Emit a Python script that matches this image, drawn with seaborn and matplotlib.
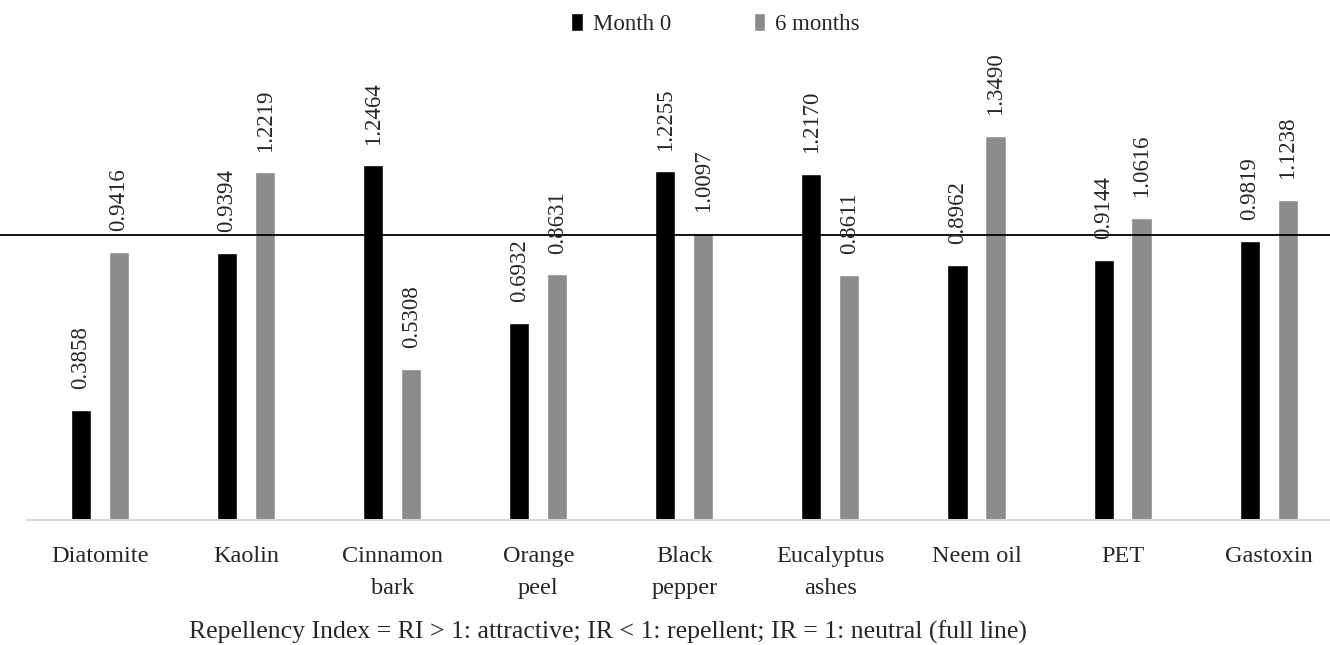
import matplotlib
matplotlib.use("Agg")
import matplotlib.pyplot as plt
import pandas as pd
import seaborn as sns

# Données
categories = ["Diatomite", "Kaolin", "Cinnamon\nbark", "Orange\npeel", "Black\npepper",
              "Eucalyptus\nashes", "Neem oil", "PET", "Gastoxin"]
month0 = [0.3858, 0.9394, 1.2464, 0.6932, 1.2255, 1.2170, 0.8962, 0.9144, 0.9819]
month6 = [0.9416, 1.2219, 0.5308, 0.8631, 1.0097, 0.8611, 1.3490, 1.0616, 1.1238]
series = ["Month 0", "6 months"]

df = pd.DataFrame({
    "cat": categories * 2,
    "RI": month0 + month6,
    "serie": [series[0]] * len(categories) + [series[1]] * len(categories),
})

sns.set_style("white")
plt.rcParams["font.family"] = ["Liberation Serif", "DejaVu Serif"]

fig = plt.figure(figsize=(13.3, 6.45), dpi=100)
ax = fig.add_axes([0.0203, 0.194, 0.9797, 0.72])

sns.barplot(data=df, x="cat", y="RI", hue="serie", hue_order=series,
            palette=["#000000", "#8c8c8c"], width=0.52, gap=0.47,
            saturation=1, ax=ax, legend=True)

# étiquettes de valeurs
for cont in ax.containers:
    ax.bar_label(cont, labels=[f"{v:.4f}" for v in cont.datavalues],
                 rotation=90, padding=15, fontsize=16.5)

# ligne neutre RI = 1
ax.axhline(1.0, xmin=-0.025, xmax=1, color="black", lw=1.3, clip_on=False)

ax.set_ylim(0, 1.633)
ax.set_xlim(-0.5, 8.42)
ax.set_xlabel("")
ax.set_ylabel("")
ax.set_yticks([])
ax.tick_params(axis="x", length=0, pad=19, labelsize=17.5)
for lab in ax.get_xticklabels():
    lab.set_linespacing(1.65)
    lab.set_verticalalignment("top")
for s in ["top", "right", "left"]:
    ax.spines[s].set_visible(False)
ax.spines["bottom"].set_color("#d9d9d9")
ax.spines["bottom"].set_linewidth(1.5)

ax.legend(loc="center", bbox_to_anchor=(0.538, 0.963), bbox_transform=fig.transFigure,
          ncol=2, frameon=False, fontsize=16.5, handlelength=0.5, handleheight=0.85,
          columnspacing=3.6, handletextpad=0.45)

fig.text(0.457, 0.02, "Repellency Index = RI > 1: attractive; IR < 1: repellent; IR = 1: neutral (full line)",
         ha="center", va="center", fontsize=18.5)

fig.savefig("out.png", dpi=100)
